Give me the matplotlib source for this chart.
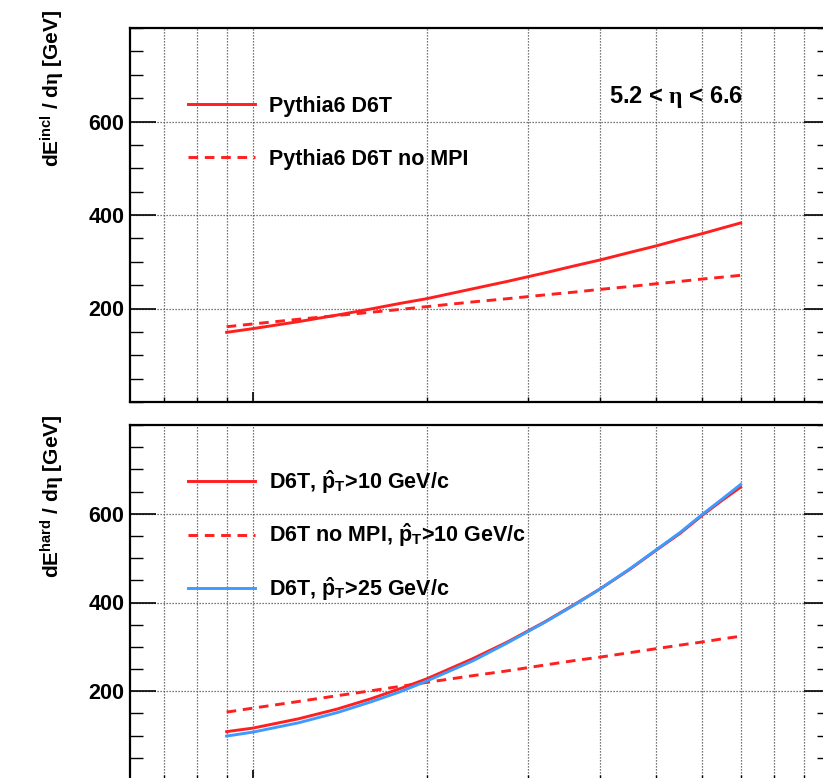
import matplotlib
matplotlib.use("Agg")
import matplotlib.pyplot as plt
from matplotlib.ticker import FixedLocator, MultipleLocator, LogLocator, NullFormatter

plt.rcParams['font.family'] = ['Liberation Sans', 'DejaVu Sans']
plt.rcParams['font.weight'] = 'bold'
plt.rcParams['axes.labelweight'] = 'bold'
plt.rcParams['mathtext.fontset'] = 'custom'
plt.rcParams['mathtext.rm'] = 'Liberation Sans:bold'
plt.rcParams['mathtext.bf'] = 'Liberation Sans:bold'
plt.rcParams['mathtext.it'] = 'Liberation Serif'

# centre-of-mass energy sqrt(s) [TeV]
sqrt_s = [0.9, 1.0, 1.2, 1.4, 1.6, 1.8, 2.0, 2.4, 2.76, 3.2, 3.6, 4.0, 4.5, 5.0, 5.5, 6.0, 6.5, 7.0]

# inclusive energy flow, 5.2 < eta < 6.6
incl_d6t = [149, 157, 172, 186, 199, 211, 221, 242, 258, 276, 291, 304, 320, 334, 348, 360, 372, 383]
incl_d6t_nompi = [161, 167, 177, 185, 192, 198, 204, 214, 221, 229, 235, 241, 247, 253, 258, 263, 267, 271]

# energy flow in hard events
hard_pt10 = [109, 117, 138, 160, 183, 206, 228, 273, 311, 356, 395, 431, 475, 518, 556, 596, 630, 660]
hard_pt10_nompi = [153, 162, 177, 190, 201, 211, 220, 235, 246, 259, 269, 277, 287, 296, 304, 311, 318, 324]
hard_pt25 = [99, 108, 129, 152, 176, 199, 223, 268, 309, 355, 394, 431, 476, 519, 558, 598, 633, 666]

y_major = [200, 400, 600]

RED = '#ff1f1f'
BLUE = '#3d9bff'
FS = 15.5

fig = plt.figure(figsize=(8.23, 7.78), dpi=100)
W, H = 823.0, 778.0
ax1 = fig.add_axes([130 / W, (H - 402) / H, 700 / W, 374 / H])
ax2 = fig.add_axes([130 / W, (H - 780) / H, 700 / W, 355 / H])


def style_axes(ax):
    ax.set_xscale('log')
    ax.set_xlim(0.612, 10.0)
    ax.set_ylim(0, 800)
    ax.yaxis.set_major_locator(FixedLocator(y_major))
    ax.yaxis.set_minor_locator(MultipleLocator(50))
    ax.xaxis.set_major_locator(LogLocator(base=10, subs=(1.0,)))
    ax.xaxis.set_minor_locator(LogLocator(base=10, subs=(2, 3, 4, 5, 6, 7, 8, 9), numticks=20))
    ax.xaxis.set_major_formatter(NullFormatter())
    ax.xaxis.set_minor_formatter(NullFormatter())
    ax.tick_params(axis='y', which='major', direction='in', length=18.5, width=1.2,
                   left=True, right=True, labelsize=FS, pad=4)
    ax.tick_params(axis='y', which='minor', direction='in', length=9.3, width=1.0,
                   left=True, right=True)
    ax.tick_params(axis='x', which='major', direction='in', length=7, width=1.2,
                   bottom=True, top=False, labelbottom=False)
    ax.tick_params(axis='x', which='minor', direction='in', length=3.5, width=1.0,
                   bottom=True, top=False)
    grid_kw = dict(linestyle=(0, (1, 1.4)), color='0.3', linewidth=0.9)
    ax.grid(True, which='major', axis='y', **grid_kw)
    ax.grid(True, which='both', axis='x', **grid_kw)
    ax.set_axisbelow(True)
    for sp in ax.spines.values():
        sp.set_linewidth(1.6)
        sp.set_color('black')


style_axes(ax1)
style_axes(ax2)

# upper panel: inclusive
ax1.plot(sqrt_s, incl_d6t, color=RED, lw=2.1, label='Pythia6 D6T')
l, = ax1.plot(sqrt_s, incl_d6t_nompi, color=RED, lw=2.1, linestyle='--',
              label='Pythia6 D6T no MPI')
l.set_dashes([3.3, 2.3])
ax1.legend(loc='upper left', bbox_to_anchor=(0.083, 0.819), frameon=False,
           fontsize=FS, handlelength=3.1, handletextpad=0.65, labelspacing=1.5,
           borderpad=0, borderaxespad=0)
ax1.text(0.684, 0.816, r'5.2 < $\eta$ < 6.6', transform=ax1.transAxes,
         fontsize=17, ha='left', va='center')
ax1.set_ylabel(r'$\mathrm{dE}^{\mathrm{incl}}$ / d$\eta$ [GeV]', fontsize=15,
               fontweight='bold', loc='top')
ax1.yaxis.set_label_coords(-0.091, 1.048)

# lower panel: hard events
ax2.plot(sqrt_s, hard_pt10, color=RED, lw=2.1,
         label=r'D6T, $\hat{\mathrm{p}}_{\mathrm{T}}$>10 GeV/c')
l, = ax2.plot(sqrt_s, hard_pt10_nompi, color=RED, lw=2.1, linestyle='--',
              label=r'D6T no MPI, $\hat{\mathrm{p}}_{\mathrm{T}}$>10 GeV/c')
l.set_dashes([3.3, 2.3])
ax2.plot(sqrt_s, hard_pt25, color=BLUE, lw=2.1,
         label=r'D6T, $\hat{\mathrm{p}}_{\mathrm{T}}$>25 GeV/c')
ax2.legend(loc='upper left', bbox_to_anchor=(0.083, 0.879), frameon=False,
           fontsize=FS, handlelength=3.1, handletextpad=0.65, labelspacing=1.2,
           borderpad=0, borderaxespad=0)
ax2.set_ylabel(r'$\mathrm{dE}^{\mathrm{hard}}$ / d$\eta$ [GeV]', fontsize=15,
               fontweight='bold', loc='top')
ax2.yaxis.set_label_coords(-0.091, 1.03)

fig.savefig('out.png', dpi=100)
